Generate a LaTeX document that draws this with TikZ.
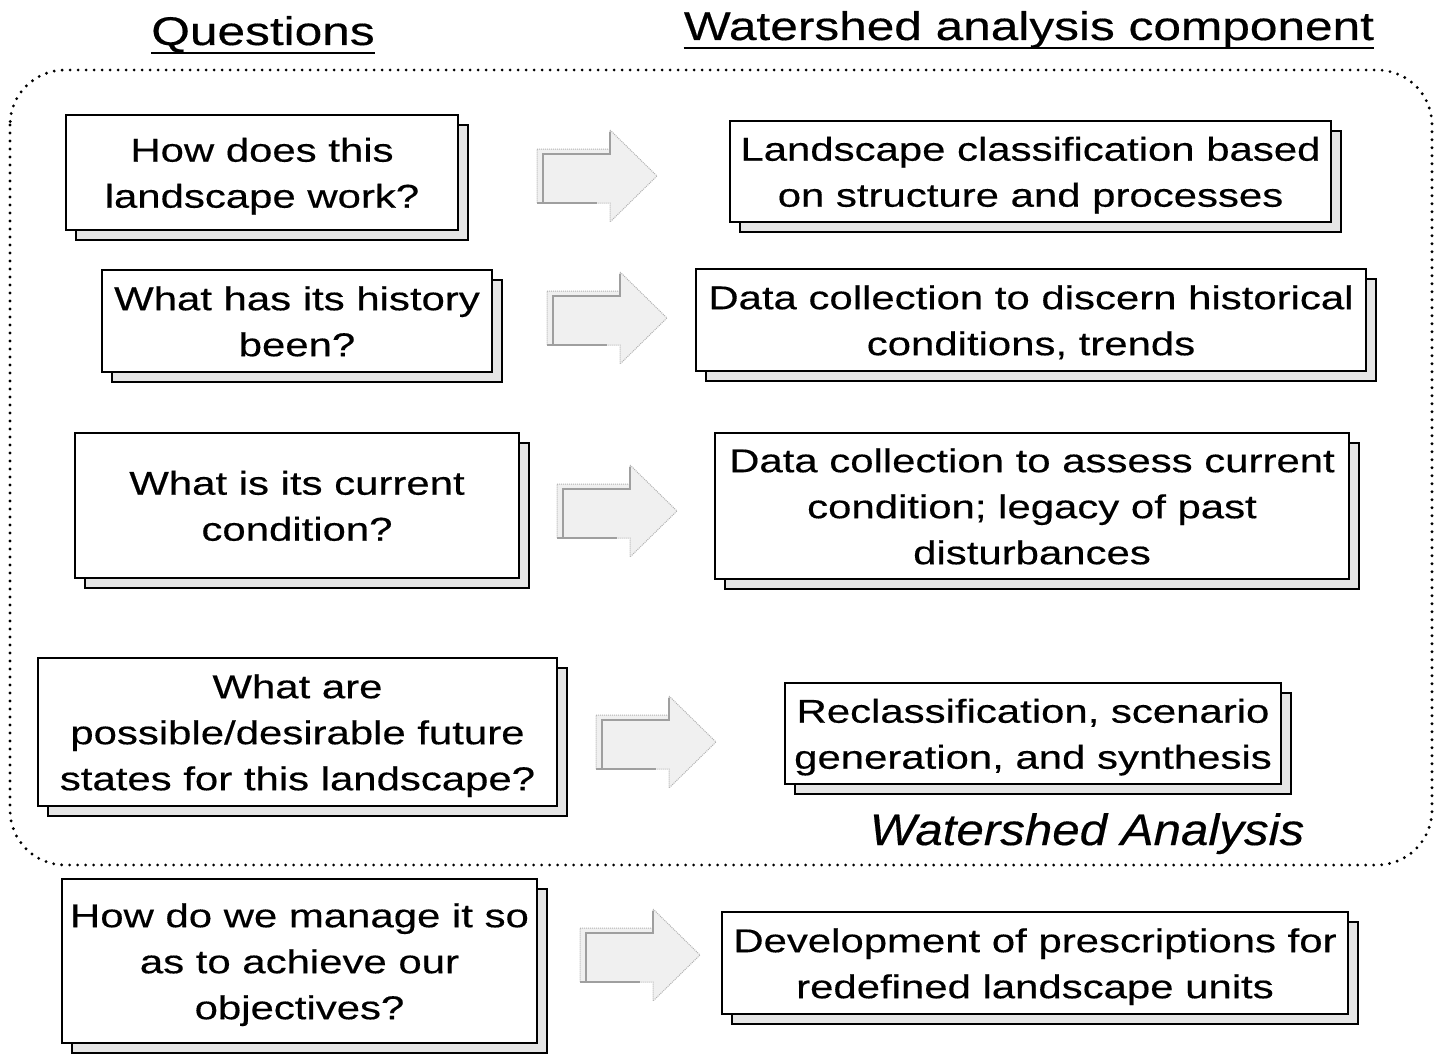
\documentclass[tikz,border=0pt]{standalone}
\usepackage{fontspec}
\setmainfont{Liberation Sans}[FakeStretch=1.27,FakeBold=0.4]
\newfontfamily\titlefont{Liberation Sans}[FakeStretch=1.24,FakeBold=0.4]
\newfontfamily\italfont{Liberation Sans}[FakeStretch=1.12,FakeBold=0.4]
\usetikzlibrary{shadows}
\newcommand{\boxtext}[1]{\raisebox{-3pt}[\height][\depth]{\begin{tabular}{@{}c@{}}#1\end{tabular}}}
\tikzset{
  qbox/.style={draw=black, line width=2.2pt, fill=white, rectangle, inner sep=0pt,
    font=\fontsize{33}{46}\selectfont,
    general shadow={shadow xshift=10pt, shadow yshift=-10pt, fill=gray!20, draw=black, line width=1.5pt}},
  frame/.style={line width=3.2pt, dash pattern=on 0pt off 8pt, line cap=round, rounded corners=55pt},
  arrface/.style={fill=gray!12, draw=gray!60, densely dotted, line width=1pt},
  arredge/.style={draw=gray!75, line width=1.6pt},
  title/.style={font=\titlefont\fontsize{40}{46}\selectfont, inner sep=0pt, anchor=base}
}
\newcommand{\blockarrow}[3]{%
  \begin{scope}[shift={(#1,#2)}]
    \coordinate (#3) at (0,0);
    \path[arrface] (0,-27) -- (73,-27) -- (73,-46) -- (120,0) -- (73,46) -- (73,27) -- (0,27) -- cycle;
    \path[arredge] (6,27) -- (6,-22) -- (73,-22) -- (73,-44);
    \path[arredge] (0,27) -- (60,27);
  \end{scope}}
\begin{document}
\begin{tikzpicture}[x=1pt,y=-1pt]
\useasboundingbox (0,0) rectangle (1437,1054);
% titles
\node[title] (tq) at (263,45) {Questions};
\node[title] (tw) at (1029,40) {Watershed analysis component};
\draw[line width=2pt] (tq.base west) ++(0,8) coordinate (tq1) -- (tq.base east |- tq1);
\draw[line width=2pt] (tw.base west) ++(0,8) coordinate (tw1) -- (tw.base east |- tw1);
% frame
\draw[frame] (10,70) rectangle (1432,865);
\node[font=\italfont\fontsize{44}{50}\selectfont\itshape, inner sep=0pt, anchor=base] (wa) at (1087,845) {Watershed Analysis};
% question boxes
\node[qbox, minimum width=392pt, minimum height=115pt] (q1) at (262,172.5) {\boxtext{How does this\\landscape work?}};
\node[qbox, minimum width=390pt, minimum height=102pt] (q2) at (297,321) {\boxtext{What has its history\\been?}};
\node[qbox, minimum width=444pt, minimum height=145pt] (q3) at (297,505.5) {\boxtext{What is its current\\condition?}};
\node[qbox, minimum width=519pt, minimum height=148pt] (q4) at (297.5,732) {\boxtext{What are\\possible/desirable future\\states for this landscape?}};
\node[qbox, minimum width=475pt, minimum height=164pt] (q5) at (299.5,961) {\boxtext{How do we manage it so\\as to achieve our\\objectives?}};
% component boxes
\node[qbox, minimum width=601pt, minimum height=101pt] (r1) at (1030.5,171.5) {\boxtext{Landscape classification based\\on structure and processes}};
\node[qbox, minimum width=670pt, minimum height=102pt] (r2) at (1031,320) {\boxtext{Data collection to discern historical\\conditions, trends}};
\node[qbox, minimum width=634pt, minimum height=146pt] (r3) at (1032,506) {\boxtext{Data collection to assess current\\condition; legacy of past\\disturbances}};
\node[qbox, minimum width=496pt, minimum height=101pt] (r4) at (1033,733.5) {\boxtext{Reclassification, scenario\\generation, and synthesis}};
\node[qbox, minimum width=626pt, minimum height=102pt] (r5) at (1035,963) {\boxtext{Development of prescriptions for\\redefined landscape units}};
% arrows
\blockarrow{537}{176}{a1}
\blockarrow{547}{318}{a2}
\blockarrow{557}{511}{a3}
\blockarrow{596}{742}{a4}
\blockarrow{580}{955}{a5}
\end{tikzpicture}
\end{document}
